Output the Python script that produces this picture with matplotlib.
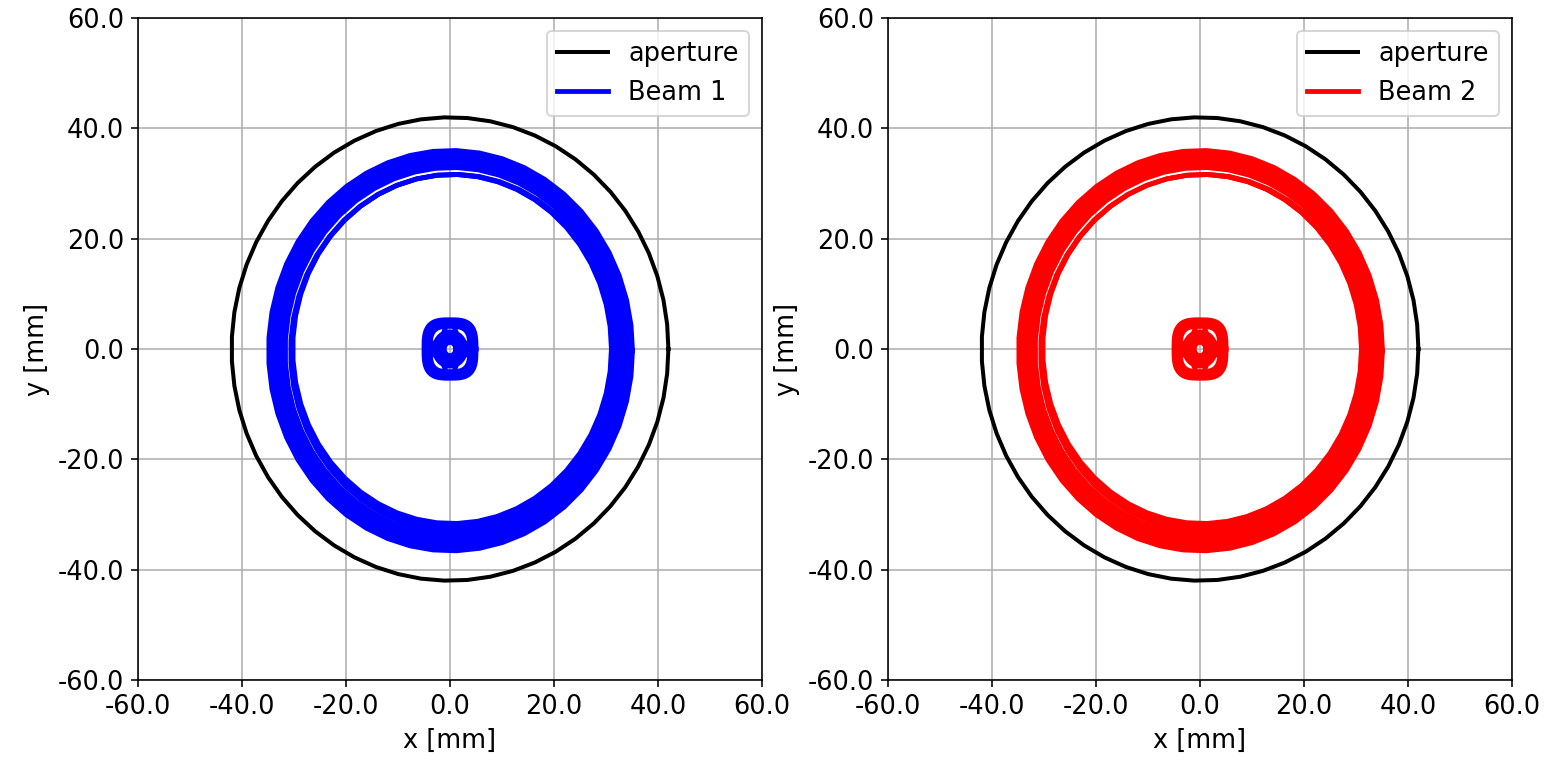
import numpy as np
import matplotlib.pyplot as plt
from matplotlib.ticker import FormatStrFormatter

plt.rcParams['font.size'] = 12.8

# aperture radius [mm]
aperture_r = 42.0

# main beam envelope: semi-axes and centre offsets [mm]
outer_hx = [32.0, 32.5, 33.0, 33.5, 34.0, 34.5, 35.0]
outer_hy = [33.3, 33.8, 34.3, 34.8, 35.3, 35.8, 36.3]
outer_x0 = [0.3, 0.3, 0.2, 0.2, 0.1, 0.1, 0.1]
outer_y0 = [-0.4, -0.4, -0.4, -0.3, -0.3, -0.3, -0.3]

# inner ring of the envelope
inner_hx = [30.6, 30.9, 31.2, 31.3]
inner_hy = [31.6, 31.9, 32.2, 32.4]
inner_x0 = [0.4, 0.5, 0.5, 0.7]
inner_y0 = [0.0, -0.3, -0.5, -0.7]

# beam core: semi-axes and squareness exponent
core_hx = [5.0, 4.6, 4.2, 3.8, 3.0, 2.5, 2.0, 1.5, 1.1, 4.2, 1.6]
core_hy = [5.3, 4.9, 4.5, 4.1, 3.1, 2.6, 2.1, 1.6, 1.2, 1.6, 4.5]
core_p = [3.2, 3.2, 3.2, 3.2, 2.0, 2.0, 2.0, 2.0, 2.0, 2.0, 2.0]

beams = [('Beam 1', 'b'), ('Beam 2', 'r')]


def ring(hx, hy, x0=0.0, y0=0.0, p=2.0, n=50):
    t = np.linspace(0, 2 * np.pi, n)
    c, s = np.cos(t), np.sin(t)
    x = hx * np.sign(c) * np.abs(c) ** (2 / p)
    y = hy * np.sign(s) * np.abs(s) ** (2 / p)
    return x0 + x, y0 + y


fig = plt.figure(figsize=(1546 / 144, 762 / 144), dpi=144)
lefts = [138 / 1546, 888 / 1546]

for (name, col), left in zip(beams, lefts):
    ax = fig.add_axes([left, 1 - 680 / 762, 624 / 1546, 662 / 762])
    xa, ya = ring(aperture_r, aperture_r, n=60)
    ax.plot(xa, ya, 'k', lw=2.0, label='aperture')
    first = True
    for hx, hy, x0, y0 in zip(outer_hx, outer_hy, outer_x0, outer_y0):
        xe, ye = ring(hx, hy, x0, y0)
        ax.plot(xe, ye, color=col, lw=2.4, label=name if first else None)
        first = False
    for hx, hy, x0, y0 in zip(inner_hx, inner_hy, inner_x0, inner_y0):
        xe, ye = ring(hx, hy, x0, y0)
        ax.plot(xe, ye, color=col, lw=2.2)
    for hx, hy, p in zip(core_hx, core_hy, core_p):
        xe, ye = ring(hx, hy, p=p, n=80)
        ax.plot(xe, ye, color=col, lw=2.4)
    ax.set_xlim(-60, 60)
    ax.set_ylim(-60, 60)
    ax.set_xticks(np.arange(-60, 61, 20))
    ax.set_yticks(np.arange(-60, 61, 20))
    ax.xaxis.set_major_formatter(FormatStrFormatter('%.1f'))
    ax.yaxis.set_major_formatter(FormatStrFormatter('%.1f'))
    ax.grid(True)
    ax.set_xlabel('x [mm]')
    ax.set_ylabel('y [mm]')
    ax.legend(loc='upper right')

fig.savefig('out.png', dpi=144)
